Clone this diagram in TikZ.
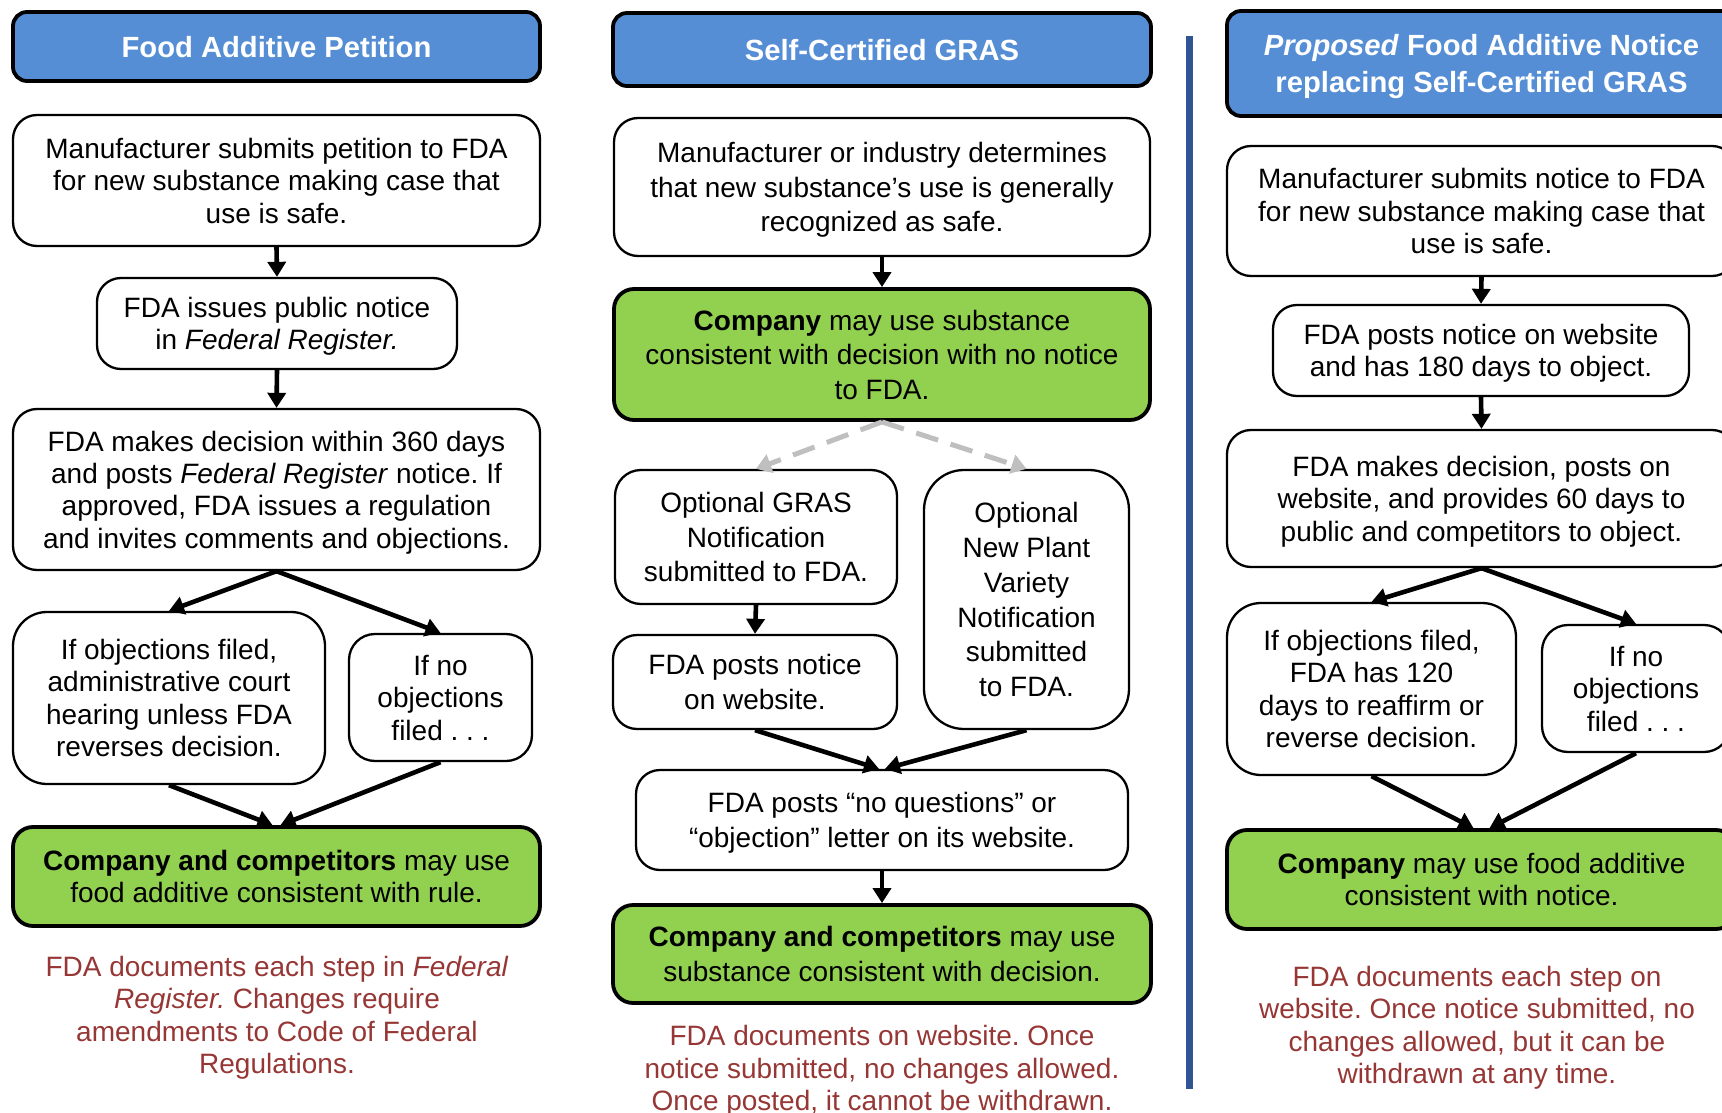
\documentclass[tikz,border=0pt]{standalone}
\usepackage{fontspec}
\setmainfont{Liberation Sans}
\usetikzlibrary{arrows.meta}
\definecolor{hdrblue}{RGB}{85,142,213}
\definecolor{okgreen}{RGB}{146,208,80}
\definecolor{notered}{RGB}{150,55,53}
\definecolor{divblue}{RGB}{47,85,151}
\definecolor{dashgray}{RGB}{191,191,191}
\newcommand\fsz{\fontsize{28}{32.4}\selectfont\frenchspacing}
\newcommand\fszb{\fontsize{28}{34.5}\selectfont\frenchspacing}
\newcommand\fszh{\fontsize{29.2}{36.2}\selectfont\frenchspacing\bfseries}
\begin{document}
\begin{tikzpicture}[x=1pt,y=-1pt,
 box/.style={draw=black, line width=2.3pt, rounded corners=24pt, fill=white, align=center, font=\fsz, inner sep=0pt, text depth=-5pt},
 greenbox/.style={box, fill=okgreen, line width=3.8pt, rounded corners=20pt},
 hdr/.style={box, fill=hdrblue, line width=3.8pt, rounded corners=14pt, text=white, font=\fszh, text depth=-2pt},
 note/.style={align=center, font=\fsz, text=notered, inner sep=0pt, text depth=0pt},
 arr/.style={line width=4.6pt, -{Triangle[length=15pt,width=18pt]}},
 darr/.style={line width=5pt, draw=dashgray, dash pattern=on 23pt off 13pt, -{Triangle[length=15pt,width=19pt]}},
]
\useasboundingbox (0,0) rectangle (1722,1113);

% ---------- Column 1 ----------
\node[hdr, minimum width=527pt, minimum height=69pt] (h1) at (276.5,46.5) {Food Additive Petition};
\node[box, minimum width=527pt, minimum height=131pt] (a1) at (276.5,180.5)
 {Manufacturer submits petition to FDA\\for new substance making case that\\use is safe.};
\node[box, minimum width=360pt, minimum height=91pt, text depth=-8pt] (a2) at (277,323.5)
 {FDA issues public notice\\in \textit{Federal Register.}};
\node[box, minimum width=527pt, minimum height=161pt, text depth=-10pt] (a3) at (276.5,489.5)
 {FDA makes decision within 360 days\\and posts \textit{Federal Register} notice. If\\approved, FDA issues a regulation\\and invites comments and objections.};
\node[box, rounded corners=34pt, minimum width=312pt, minimum height=172pt] (al) at (169,698)
 {If objections filed,\\administrative court\\hearing unless FDA\\reverses decision.};
\node[box, rounded corners=26pt, minimum width=183pt, minimum height=127pt] (ar) at (440.5,697.5)
 {If no\\objections\\filed . . .};
\node[greenbox, minimum width=527pt, minimum height=99pt] (ag) at (276.5,876.5)
 {\textbf{Company and competitors} may use\\food additive consistent with rule.};
\node[note] (an) at (277,1015)
 {FDA documents each step in \textit{Federal}\\\textit{Register.} Changes require\\amendments to Code of Federal\\Regulations.};

\draw[arr] (a1.south) -- (a2.north);
\draw[arr] (a2.south) -- (a3.north);
\draw[arr] (a3.south) -- (al.north);
\draw[arr] (a3.south) -- (ar.north);
\draw[arr] (al.south) -- ([xshift=-4pt]ag.north);
\draw[arr] (ar.south) -- ([xshift=4pt]ag.north);

% ---------- Column 2 ----------
\node[hdr, minimum width=538pt, minimum height=73pt] (h2) at (882,49.5) {Self-Certified GRAS};
\node[box, font=\fszb, minimum width=536pt, minimum height=138pt] (b1) at (882,187)
 {Manufacturer or industry determines\\that new substance’s use is generally\\recognized as safe.};
\node[greenbox, font=\fszb, minimum width=536pt, minimum height=131pt, text depth=-11pt] (bg1) at (882,354.5)
 {\textbf{Company} may use substance\\consistent with decision with no notice\\to FDA.};
\node[box, font=\fszb, rounded corners=26pt, minimum width=282pt, minimum height=134pt] (bgr) at (756,537)
 {Optional GRAS\\Notification\\submitted to FDA.};
\node[box, font=\fszb, rounded corners=24pt, minimum width=284pt, minimum height=94pt] (bpo) at (755,682)
 {FDA posts notice\\on website.};
\node[box, rounded corners=40pt, minimum width=205pt, minimum height=259pt, font=\fontsize{28}{34.7}\selectfont, text depth=0pt] (bpl) at (1026.5,599.5)
 {Optional\\New Plant\\Variety\\Notification\\submitted\\to FDA.};
\node[box, font=\fszb, minimum width=492pt, minimum height=100pt] (ble) at (882,820)
 {FDA posts “no questions” or\\“objection” letter on its website.};
\node[greenbox, font=\fszb, minimum width=538pt, minimum height=98pt] (bg2) at (882,954)
 {\textbf{Company and competitors} may use\\substance consistent with decision.};
\node[note] (bn) at (882,1068)
 {FDA documents on website. Once\\notice submitted, no changes allowed.\\Once posted, it cannot be withdrawn.};

\draw[arr] (b1.south) -- (bg1.north);
\draw[darr] (bg1.south) -- (bgr.north);
\draw[darr] (bg1.south) -- (bpl.north);
\draw[arr] (bgr.south) -- (bpo.north);
\draw[arr] (bpo.south) -- ([xshift=-3pt]ble.north);
\draw[arr] (bpl.south) -- ([xshift=3pt]ble.north);
\draw[arr] (ble.south) -- (bg2.north);

% ---------- Divider ----------
\coordinate (dtop) at (1189,36);
\coordinate (dbot) at (1189,1089);
\draw[divblue, line width=7pt] (dtop) -- (dbot);

% ---------- Column 3 ----------
\node[hdr, minimum width=509pt, minimum height=105pt] (h3) at (1481.5,63.5)
 {\textit{Proposed} Food Additive Notice\\replacing Self-Certified GRAS};
\node[box, minimum width=509pt, minimum height=130pt] (c1) at (1481.5,211)
 {Manufacturer submits notice to FDA\\for new substance making case that\\use is safe.};
\node[box, minimum width=416pt, minimum height=91pt] (c2) at (1481,350.5)
 {FDA posts notice on website\\and has 180 days to object.};
\node[box, minimum width=509pt, minimum height=137pt] (c3) at (1481.5,498.5)
 {FDA makes decision, posts on\\website, and provides 60 days to\\public and competitors to object.};
\node[box, rounded corners=34pt, minimum width=289pt, minimum height=172pt] (cl) at (1371.5,689)
 {If objections filed,\\FDA has 120\\days to reaffirm or\\reverse decision.};
\node[box, rounded corners=26pt, minimum width=188pt, minimum height=127pt] (cr) at (1636,688.5)
 {If no\\objections\\filed . . .};
\node[greenbox, minimum width=509pt, minimum height=99pt] (cg) at (1481.5,879.5)
 {\textbf{Company} may use food additive\\consistent with notice.};
\node[note] (cn) at (1477,1025)
 {FDA documents each step on\\website. Once notice submitted, no\\changes allowed, but it can be\\withdrawn at any time.};

\draw[arr] (c1.south) -- (c2.north);
\draw[arr] (c2.south) -- (c3.north);
\draw[arr] (c3.south) -- (cl.north);
\draw[arr] (c3.south) -- (cr.north);
\draw[arr] (cl.south) -- ([xshift=-8pt]cg.north);
\draw[arr] (cr.south) -- ([xshift=8pt]cg.north);
\end{tikzpicture}
\end{document}
